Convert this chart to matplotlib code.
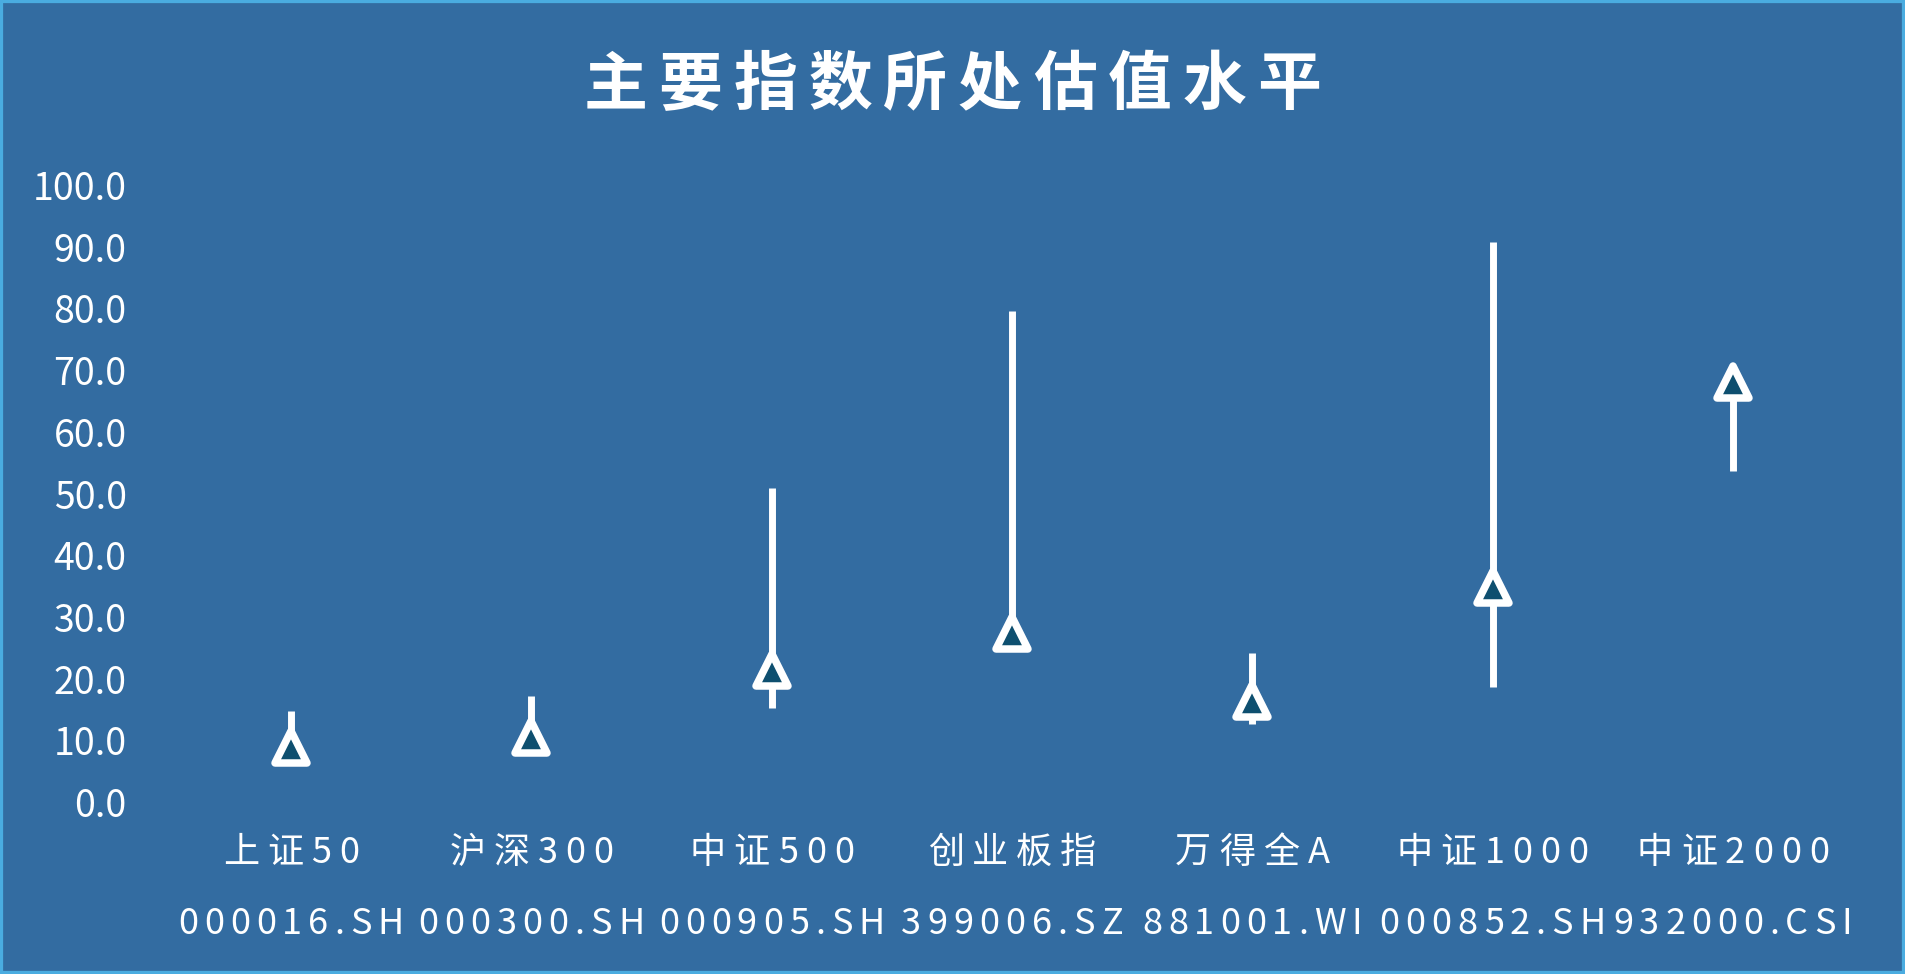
import matplotlib
matplotlib.use('Agg')
import matplotlib.pyplot as plt
from matplotlib.font_manager import FontProperties
from matplotlib.markers import MarkerStyle
from matplotlib.patches import Rectangle
from matplotlib.transforms import offset_copy, blended_transform_factory

plt.rcParams['font.family'] = ['Noto Sans CJK SC', 'DejaVu Sans']

# Data
names = ['上证50', '沪深300', '中证500', '创业板指', '万得全A', '中证1000', '中证2000']
codes = ['000016.SH', '000300.SH', '000905.SH', '399006.SZ', '881001.WI', '000852.SH', '932000.CSI']
high = [14.7, 17.2, 50.9, 79.6, 24.1, 90.8, 69.5]
low = [7.0, 8.5, 15.2, 25.0, 12.6, 18.6, 53.6]
current = [8.9, 10.5, 21.4, 27.4, 16.4, 34.8, 68.0]
yticks = [0, 10, 20, 30, 40, 50, 60, 70, 80, 90, 100]

bg = '#336ca1'
fill = '#0e4f6f'

fig = plt.figure(figsize=(19.05, 9.74), dpi=100, facecolor=bg)
ax = fig.add_axes([171 / 1905, 1 - 802 / 974, 1682 / 1905, 617 / 974], facecolor=bg)

x = list(range(len(names)))
ax.vlines(x, low, high, colors='white', linewidth=5, zorder=2)
tri = MarkerStyle('^', joinstyle='round')
ax.plot(x, current, linestyle='none', marker=tri, markersize=23,
        markerfacecolor=fill, markeredgecolor='white', markeredgewidth=5.4, zorder=3)

ax.set_xlim(-0.5, len(names) - 0.5)
ax.set_ylim(0, 100)
ax.set_yticks(yticks)
ax.set_yticklabels([f'{v:.1f}' for v in yticks])
ax.set_xticks([])
ax.tick_params(axis='y', length=0, pad=32, labelsize=27, labelcolor='white')
for s in ax.spines.values():
    s.set_visible(False)


def spaced(trans, xpos, ypos, text, prop, gap):
    # draw text char by char with extra letter spacing (gap in pixels)
    r = fig.canvas.get_renderer()
    ws = [r.get_text_width_height_descent(c, prop, ismath=False)[0] for c in text]
    left = -(sum(ws) + gap * (len(text) - 1)) / 2
    for c, w in zip(text, ws):
        tr = offset_copy(trans, fig=fig, x=left, y=0, units='dots')
        fig.text(xpos, ypos, c, transform=tr, fontproperties=prop, color='white',
                 ha='left', va='baseline')
        left += w + gap


label_prop = FontProperties(family=['Noto Sans CJK SC', 'DejaVu Sans'], size=26)
code_prop = FontProperties(family=['Noto Sans CJK SC', 'DejaVu Sans'], size=26)
title_prop = FontProperties(family=['Noto Sans CJK SC', 'DejaVu Sans'], size=46, weight='bold')

mixed = blended_transform_factory(ax.transData, ax.transAxes)
for i, (n, c) in enumerate(zip(names, codes)):
    spaced(mixed, i, -(863 - 802) / 617, n, label_prop, 8)
    spaced(mixed, i, -(934 - 802) / 617, c, code_prop, 6)

spaced(fig.transFigure, 0.5, 1 - 104 / 974, '主要指数所处估值水平', title_prop, 11)

fig.patches.append(Rectangle((0, 0), 1, 1, transform=fig.transFigure, fill=False,
                             edgecolor='#4aace0', linewidth=4.5))

fig.savefig('out.png', dpi=100, facecolor=fig.get_facecolor())
